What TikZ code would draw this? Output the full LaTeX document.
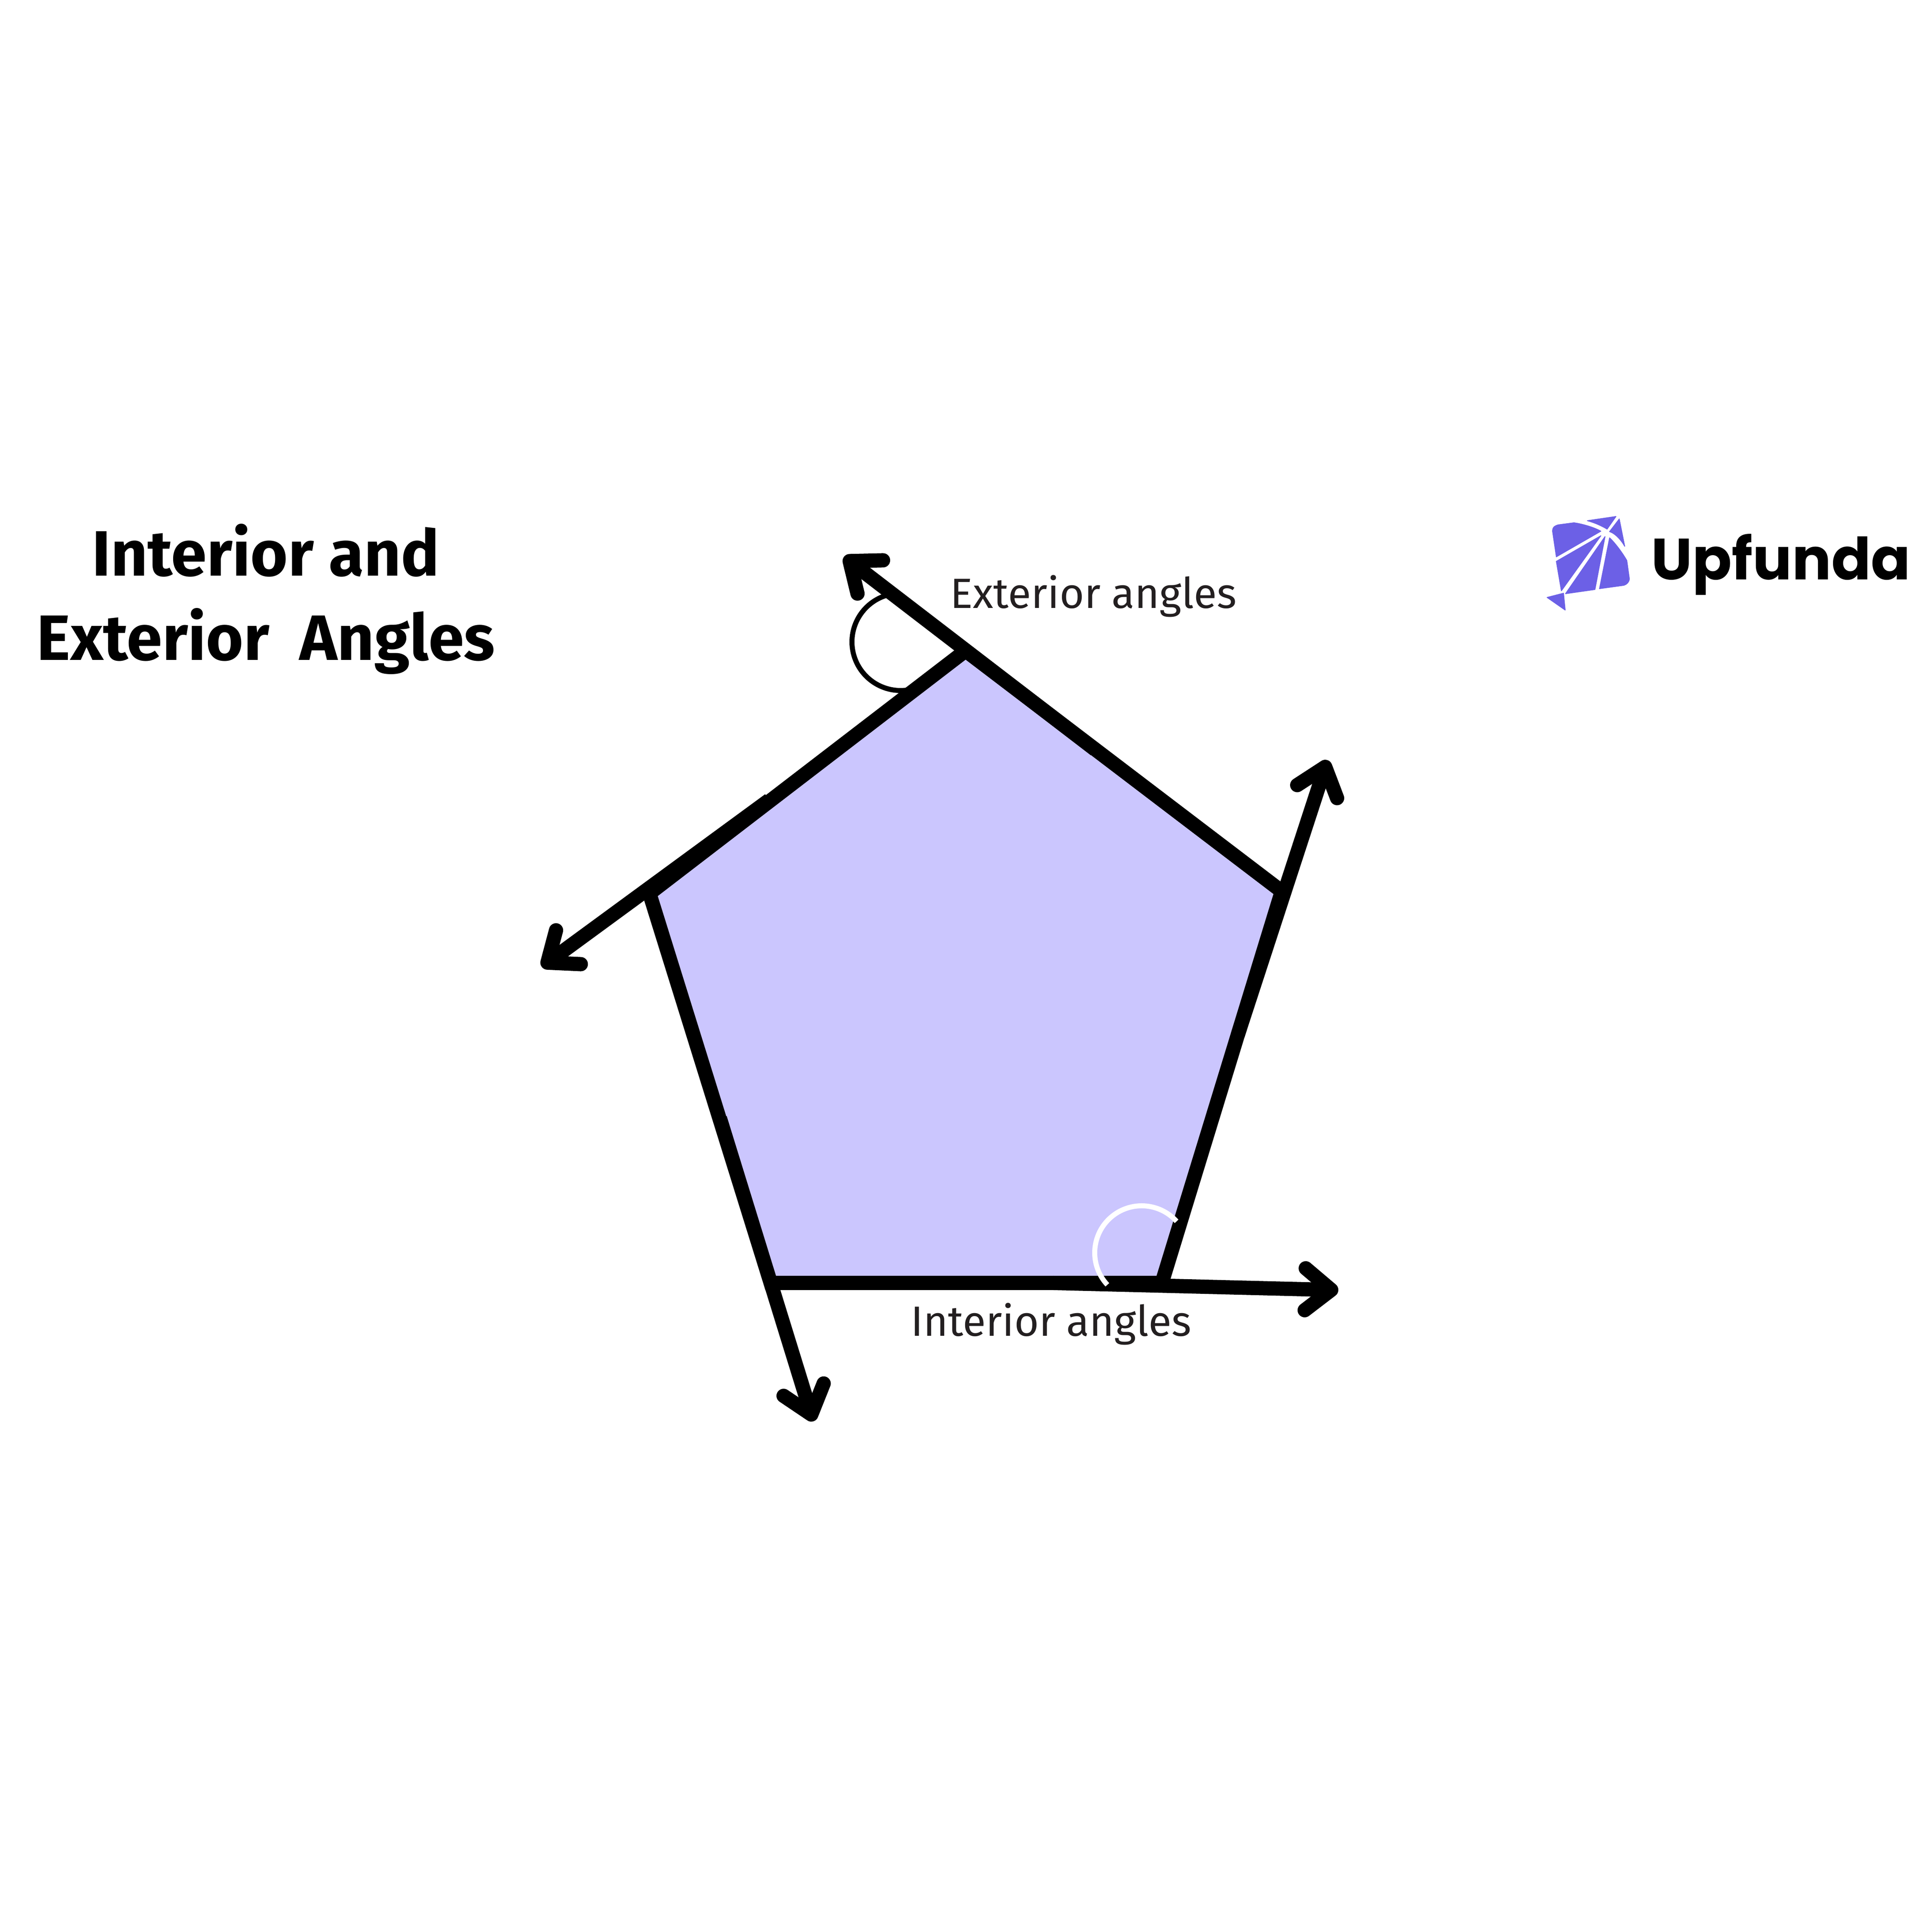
\documentclass[tikz,border=0pt]{standalone}
\usepackage{fontspec}
\usetikzlibrary{arrows.meta}
\setmainfont{Fira Sans}
\newfontfamily\logofont{Poppins}
\definecolor{pentafill}{HTML}{CBC6FE}
\definecolor{kitecolor}{HTML}{6C60E6}
\definecolor{labelcolor}{HTML}{231F20}

\begin{document}
\begin{tikzpicture}[
	edge/.style={line width=0.34cm, black},
	ray/.style={edge, -{Straight Barb[round, length=0.62cm, width=1.0cm]}},
	anglelabel/.style={anchor=base, text=labelcolor, font=\fontsize{28.7}{34}\selectfont},
	kite/.style={fill=kitecolor, draw=kitecolor, line width=0.02cm, line join=round}
	]
	\useasboundingbox (0,0) rectangle (46.08,46.08);

	% corners
	\coordinate (apex) at (23.03,30.56);
	\coordinate (east) at (30.57,24.82);
	\coordinate (se) at (27.71,15.48);
	\coordinate (sw) at (18.38,15.48);
	\coordinate (west) at (15.49,24.77);
	% ray starts
	\coordinate (apexstart) at (26.12,28.20);
	\coordinate (weststart) at (18.35,27.00);
	\coordinate (eaststart) at (29.52,21.39);
	\coordinate (sestart) at (25.12,15.48);
	\coordinate (swstart) at (17.17,19.41);
	% ray ends
	\coordinate (apexend) at (20.13,32.80);
	\coordinate (westend) at (12.92,23.02);
	\coordinate (eastend) at (31.66,27.95);
	\coordinate (seend) at (31.92,15.31);
	\coordinate (swend) at (19.40,12.18);

	% exterior angle
	\draw [line width=0.12cm, black] (21.48,30.77) ++(105:1.16) arc (105:280:1.16);

	% pentagon
	\draw [edge, fill=pentafill] (apex) -- (east) -- (se) -- (sw) -- (west) -- cycle;
	\draw [ray] (apexstart) -- (apexend);
	\draw [ray] (weststart) -- (westend);
	\draw [ray] (eaststart) -- (eastend);
	\draw [ray] (sestart) -- (seend);
	\draw [ray] (swstart) -- (swend);

	% interior angle
	\draw [line width=0.12cm, white] (27.23,16.20) ++(42:1.12) arc (42:223:1.12);

	% labels
	\node [anglelabel] (extlabel) at (26.08,31.57) {Exterior angles};
	\node [anglelabel] (intlabel) at (25.07,14.21) {Interior angles};
	\node [align=center, font=\fontsize{43.5}{57}\selectfont\bfseries, inner sep=0pt] (title) at (6.34,31.79) {Interior and\\Exterior\ \ Angles};

	% logo
	\fill [kite] (37.03,33.41) .. controls (37.03,33.52) and (37.10,33.54) .. (37.16,33.56) -- (37.54,33.61) .. controls (37.75,33.58) and (38.02,33.50) .. (38.18,33.41) -- (37.12,32.80) -- cycle;
	\fill [kite] (37.86,33.66) -- (38.54,33.76) -- (38.33,33.46) .. controls (38.22,33.53) and (38.02,33.62) .. (37.86,33.66) -- cycle;
	\fill [kite] (38.62,33.70) -- (38.75,33.05) .. controls (38.67,33.20) and (38.52,33.36) .. (38.39,33.40) -- cycle;
	\fill [kite] (38.18,33.30) -- (37.12,32.69) -- (37.24,31.99) -- cycle;
	\fill [kite] (38.28,33.28) -- (37.34,31.92) -- (38.04,32.02) -- cycle;
	\fill [kite] (38.39,33.25) -- (38.15,32.04) -- (38.73,32.12) .. controls (38.80,32.14) and (38.86,32.20) .. (38.86,32.28) -- (38.80,32.71) .. controls (38.72,32.85) and (38.55,33.10) .. (38.39,33.25) -- cycle;
	\fill [kite] (36.90,31.83) -- (37.29,31.93) -- (37.33,31.53) -- cycle;
	\node [anchor=base west, inner sep=0pt, font=\fontsize{39.5}{48}\selectfont\logofont\bfseries] (logotext) at (39.38,32.25) {Upfunda};
\end{tikzpicture}
\end{document}
